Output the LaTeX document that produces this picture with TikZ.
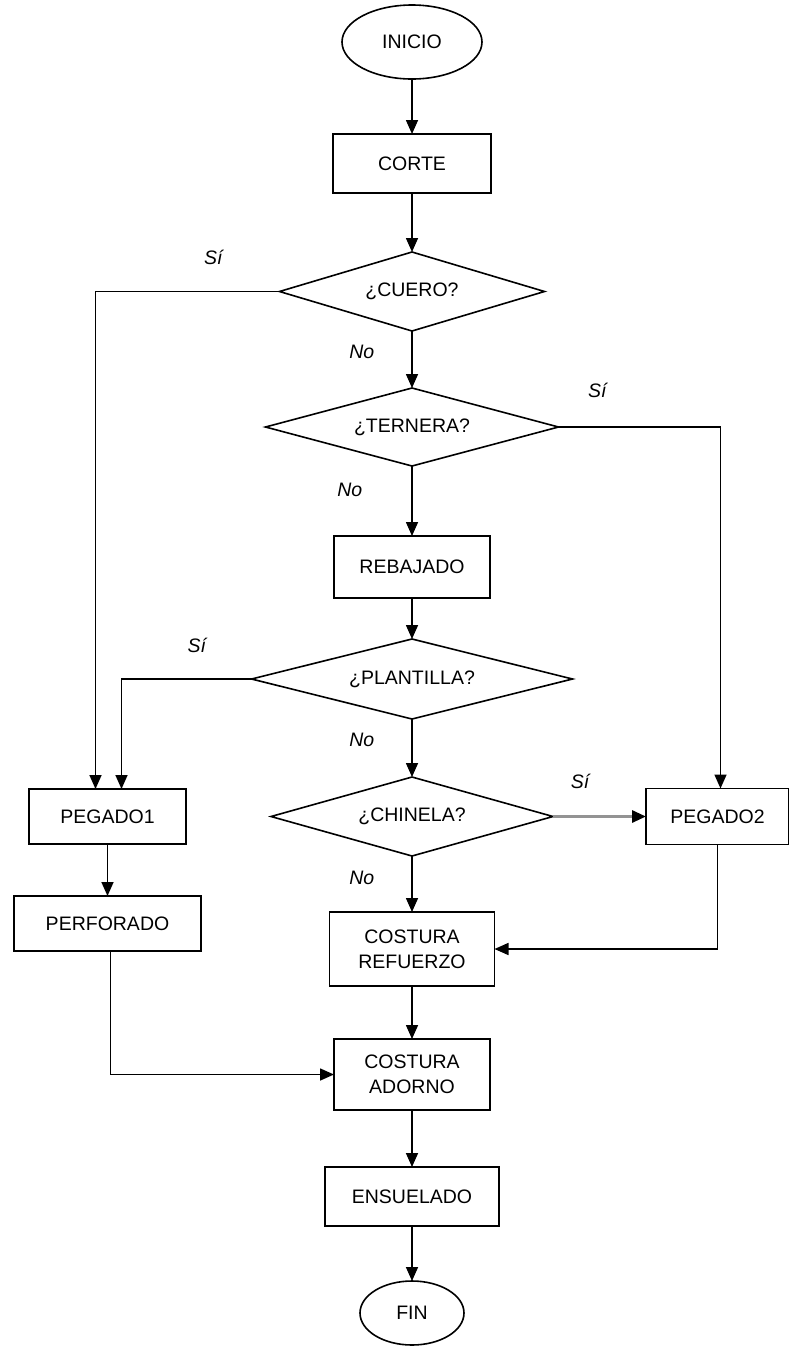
\documentclass[tikz,border=0pt]{standalone}
\usepackage{fontspec}
\setmainfont{Liberation Sans}
\usetikzlibrary{arrows.meta,positioning,shapes.geometric}

\begin{document}
\begin{tikzpicture}[x=1pt,y=-1pt,
		line width=1.6pt,
		font=\fontsize{19.5}{25}\selectfont,
		place/.style={rectangle,draw,inner sep=0pt,outer sep=0pt,align=center},
		terminal/.style={ellipse,draw,inner sep=0pt,outer sep=0pt},
		decision/.style={diamond,draw,inner sep=0pt,outer sep=0pt,aspect=3.4},
		lbl/.style={inner sep=0pt,font=\fontsize{19.5}{23}\selectfont\itshape},
		marrow/.style={-{Triangle[length=14pt,width=12pt]}}]
		\useasboundingbox (0,0) rectangle (789,1350);

		% main column
		\node [terminal,minimum width=140pt,minimum height=74pt] (inicio) at (412,42) {INICIO};
		\node [place,minimum width=158pt,minimum height=59pt] (corte) [below=55pt of inicio] {CORTE};
		\node [decision,minimum width=265pt,minimum height=79pt] (cuero) [below=59pt of corte] {¿CUERO?};
		\node [decision,minimum width=293pt,minimum height=78pt] (ternera) [below=57pt of cuero] {¿TERNERA?};
		\node [place,minimum width=156pt,minimum height=62pt] (rebajado) [below=70pt of ternera] {REBAJADO};
		\node [decision,minimum width=321pt,minimum height=80pt] (plantilla) [below=41pt of rebajado] {¿PLANTILLA?};
		\node [decision,minimum width=282pt,minimum height=79pt] (chinela) [below=58pt of plantilla] {¿CHINELA?};
		\node [place,minimum width=165pt,minimum height=74pt] (refuerzo) [below=56pt of chinela] {COSTURA\\REFUERZO};
		\node [place,minimum width=156pt,minimum height=71pt] (adorno) [below=53pt of refuerzo] {COSTURA\\ADORNO};
		\node [place,minimum width=174pt,minimum height=59pt] (ensuelado) [below=57pt of adorno] {ENSUELADO};
		\node [terminal,minimum width=104pt,minimum height=64pt] (fin) [below=55pt of ensuelado] {FIN};

		% side branches
		\node [place,minimum width=157pt,minimum height=55pt] (pegado1) [left=85pt of chinela] {PEGADO1};
		\node [place,minimum width=187pt,minimum height=55pt] (perforado) [below=52pt of pegado1] {PERFORADO};
		\node [place,minimum width=143pt,minimum height=56pt] (pegado2) [right=93pt of chinela] {PEGADO2};

		% vertical arrows
		\draw [marrow] (inicio) to (corte);
		\draw [marrow] (corte) to (cuero);
		\draw [marrow] (cuero) to node [lbl,pos=0.37,left=37pt] {No} (ternera);
		\draw [marrow] (ternera) to node [lbl,pos=0.34,left=49pt] {No} (rebajado);
		\draw [marrow] (rebajado) to (plantilla);
		\draw [marrow] (plantilla) to node [lbl,pos=0.36,left=37pt] {No} (chinela);
		\draw [marrow] (chinela) to node [lbl,pos=0.39,left=37pt] {No} (refuerzo);
		\draw [marrow] (refuerzo) to (adorno);
		\draw [marrow] (adorno) to (ensuelado);
		\draw [marrow] (ensuelado) to (fin);
		\draw [marrow] (pegado1) to (perforado);

		% branch arrows
		\draw [marrow] (cuero.west) -| node [lbl,pos=0.18,above=26pt] {Sí} ([xshift=-12pt]pegado1.north);
		\draw [marrow] (plantilla.west) -| node [lbl,pos=0.21,above=26pt] {Sí} ([xshift=14pt]pegado1.north);
		\draw [marrow] (ternera.east) -| node [lbl,pos=0.12,above=29pt] {Sí} ([xshift=3pt]pegado2.north);
		\draw [-{Triangle[length=14pt,width=12pt,color=black]},draw=gray!85,line width=3pt] (chinela) to node [lbl,pos=0.29,above=26pt] {Sí} (pegado2);
		\draw [marrow] (pegado2.south) |- (refuerzo.east);
		\draw [marrow] ([xshift=3pt]perforado.south) |- (adorno.west);
	\end{tikzpicture}
\end{document}
